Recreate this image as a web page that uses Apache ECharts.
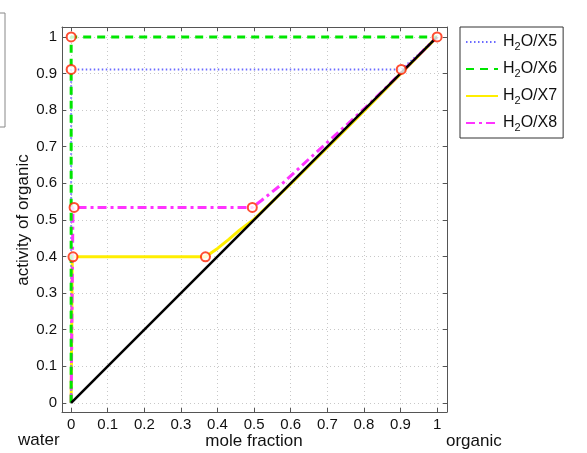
<!DOCTYPE html>
<html>
<head>
<meta charset="utf-8">
<script src="https://cdn.jsdelivr.net/npm/echarts@6/dist/echarts.min.js"></script>
<style>
html,body{margin:0;padding:0;background:#fff;}
#chart{width:587px;height:453px;}
</style>
</head>
<body>
<div id="chart"></div>
<script>
// ---- data ----
var tickValues = [0, 0.1, 0.2, 0.3, 0.4, 0.5, 0.6, 0.7, 0.8, 0.9, 1];
var tickLabels = ['0', '0.1', '0.2', '0.3', '0.4', '0.5', '0.6', '0.7', '0.8', '0.9', '1'];

var seriesNames = ['H2O/X5', 'H2O/X6', 'H2O/X7', 'H2O/X8'];

var x5 = [0, 0, 0.902, 0.95, 1];
var y5 = [0, 0.911, 0.911, 0.953, 1];

var x6 = [0, 0, 1];
var y6 = [0, 1, 1];

var x7 = [0, 0.003, 0.367, 0.40, 0.43, 0.46, 0.50, 0.60, 0.80, 1];
var y7 = [0, 0.399, 0.399, 0.422, 0.446, 0.472, 0.502, 0.598, 0.797, 1];

var x8 = [0, 0.005, 0.495, 0.52, 0.576, 0.63, 0.667, 0.70, 0.75, 0.80, 0.85, 1];
var y8 = [0, 0.534, 0.534, 0.553, 0.598, 0.648, 0.682, 0.712, 0.757, 0.803, 0.851, 1];

var xIdeal = [0, 1];
var yIdeal = [0, 1];

var markX = [0, 0.902, 0, 1, 0.005, 0.367, 0.008, 0.495];
var markY = [0.911, 0.911, 1, 1, 0.399, 0.399, 0.534, 0.534];

var axisMin = -0.025, axisMax = 1.027;

function pairs(xs, ys) { return xs.map(function (x, i) { return [x, ys[i]]; }); }
function labelFor(v) {
  for (var i = 0; i < tickValues.length; i++) if (Math.abs(tickValues[i] - v) < 1e-9) return tickLabels[i];
  return '';
}

var frameColor = '#555';
var font = 'Liberation Sans, Arial, Helvetica, sans-serif';

function makeAxis(pos, showLabel) {
  return {
    type: 'value', position: pos, min: axisMin, max: axisMax,
    axisLine: { show: true, onZero: false, lineStyle: { color: frameColor, width: 1 } },
    axisTick: { show: true, inside: true, length: 4, customValues: tickValues, lineStyle: { color: frameColor } },
    axisLabel: { show: showLabel, customValues: tickValues, formatter: labelFor, color: '#111', fontSize: 15, fontFamily: font, margin: 5 },
    splitLine: { show: showLabel, lineStyle: { color: '#c8c8c8', type: [1, 3], width: 1 } }
  };
}

var chart = echarts.init(document.getElementById('chart'), null, { renderer: 'canvas' });

var option = {
  animation: false,
  backgroundColor: '#fff',
  grid: { left: 62, top: 27, width: 385, height: 385, show: false },
  xAxis: [makeAxis('bottom', true), makeAxis('top', false)],
  yAxis: [makeAxis('left', true), makeAxis('right', false)],
  legend: {
    data: seriesNames,
    orient: 'vertical',
    left: 460, top: 27,
    padding: [5, 6, 5, 5],
    itemGap: 7,
    itemWidth: 32, itemHeight: 14,
    borderColor: '#333', borderWidth: 1,
    backgroundColor: '#fff',
    itemStyle: { opacity: 0 },
    formatter: function (name) {
      return '{n|H}{s|2}{n|' + name.slice(2) + '}';
    },
    textStyle: {
      rich: {
        n: { fontSize: 16, fontFamily: font, color: '#111', lineHeight: 20 },
        s: { fontSize: 11, fontFamily: font, color: '#111', lineHeight: 20, padding: [9, 0, 0, 0] }
      }
    }
  },
  graphic: [
    { type: 'rect', shape: { x: -20, y: 13, width: 25, height: 114 }, style: { fill: '#fff', stroke: '#888', lineWidth: 1 } },
    { type: 'text', left: 18, top: 432, style: { text: 'water', font: '17px ' + font, fill: '#111' } },
    { type: 'text', x: 254, y: 441, style: { text: 'mole fraction', font: '17px ' + font, fill: '#111', align: 'center', verticalAlign: 'middle' } },
    { type: 'text', x: 446, y: 441, style: { text: 'organic', font: '17px ' + font, fill: '#111', align: 'left', verticalAlign: 'middle' } },
    { type: 'text', x: 23, y: 220, rotation: Math.PI / 2, style: { text: 'activity of organic', font: '17px ' + font, fill: '#111', align: 'center', verticalAlign: 'middle' } }
  ],
  series: [
    { name: seriesNames[0], type: 'line', data: pairs(x5, y5), showSymbol: false, symbol: 'none', z: 3,
      lineStyle: { color: '#6a6aff', width: 2, type: [1.5, 2.5] }, itemStyle: { color: '#6a6aff' } },
    { name: seriesNames[1], type: 'line', data: pairs(x6, y6), showSymbol: false, symbol: 'none', z: 4,
      lineStyle: { color: '#00e600', width: 3, type: [8, 6] }, itemStyle: { color: '#00e600' } },
    { name: seriesNames[2], type: 'line', data: pairs(x7, y7), showSymbol: false, symbol: 'none', z: 2,
      lineStyle: { color: '#ffee00', width: 3, type: 'solid' }, itemStyle: { color: '#ffee00' } },
    { name: seriesNames[3], type: 'line', data: pairs(x8, y8), showSymbol: false, symbol: 'none', z: 3,
      lineStyle: { color: '#ff33ff', width: 3, type: [9, 4, 3, 4] }, itemStyle: { color: '#ff33ff' } },
    { name: 'ideal', type: 'line', data: pairs(xIdeal, yIdeal), showSymbol: false, symbol: 'none', z: 5,
      lineStyle: { color: '#000', width: 2.5 } },
    { name: 'binodal', type: 'scatter', data: pairs(markX, markY), symbol: 'emptyCircle', symbolSize: 9, z: 6,
      itemStyle: { color: '#ff2200', borderColor: '#ff2200', borderWidth: 2.5 } }
  ]
};
chart.setOption(option);
</script>
</body>
</html>
